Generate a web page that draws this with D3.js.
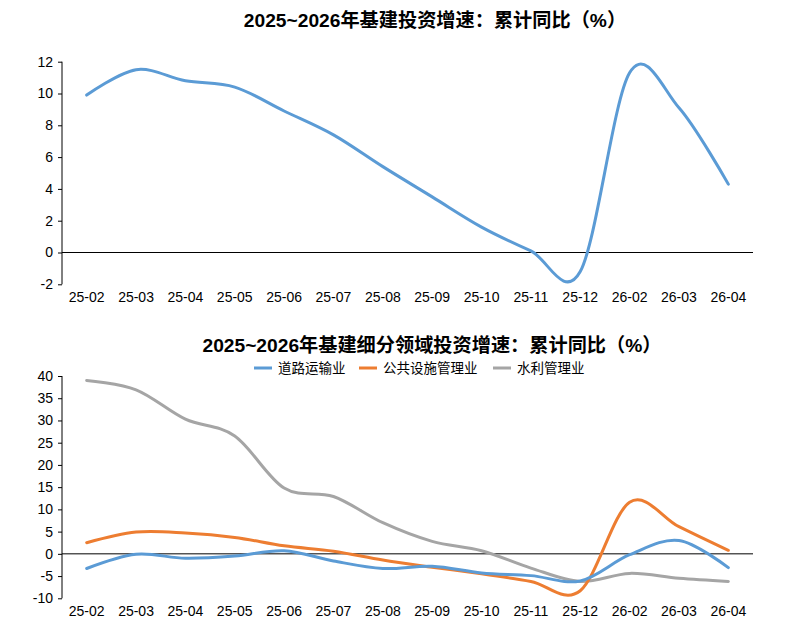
<!DOCTYPE html>
<html>
<head>
<meta charset="utf-8">
<script src="https://cdn.jsdelivr.net/npm/d3@7"></script>
<style>
  body { margin: 0; background: #fff; }
  svg text { font-family: "Liberation Sans", Arial, "Noto Sans CJK SC", sans-serif; }
</style>
</head>
<body>
<div id="chart"></div>
<script>
// categories (cumulative months)
var months = ["25-02", "25-03", "25-04", "25-05", "25-06", "25-07", "25-08",
  "25-09", "25-10", "25-11", "25-12", "26-02", "26-03", "26-04"];

// top panel: infrastructure investment, ytd yoy %
var infra = [9.9, 11.5, 10.8, 10.4, 8.9, 7.4, 5.4, 3.5, 1.6, 0.1, -1.2, 11.3, 9.1, 4.3];

// bottom panel: sub-sectors
var road = [-3.3, -0.1, -1.0, -0.5, 0.7, -1.6, -3.3, -2.8, -4.3, -4.9, -6.1, -0.2, 3.0, -3.1];
var utility = [2.5, 4.9, 4.7, 3.7, 1.8, 0.6, -1.4, -3.0, -4.5, -6.2, -8.3, 11.6, 6.1, 0.8];
var water = [39.0, 36.9, 30.3, 26.5, 14.8, 12.9, 7.0, 2.8, 0.7, -3.2, -6.2, -4.4, -5.5, -6.2];

var topTicks = [-2, 0, 2, 4, 6, 8, 10, 12];
var bottomTicks = [-10, -5, 0, 5, 10, 15, 20, 25, 30, 35, 40];

var seriesNames = ["道路运输业", "公共设施管理业", "水利管理业"];
var seriesColors = ["#5B9BD5", "#ED7D31", "#A5A5A5"];

var width = 801, height = 636;
var svg = d3.select("#chart").append("svg")
  .attr("width", width)
  .attr("height", height);

var x = d3.scaleBand().domain(months).range([62, 753]);
var curve = d3.curveCardinal.tension(0);

function panel(opts) {
  var y = d3.scaleLinear().domain(opts.domain).range(opts.range);
  var g = svg.append("g");

  // y axis with outward ticks, plain hyphen for negatives
  g.append("g")
    .attr("transform", "translate(62,0)")
    .call(d3.axisLeft(y).tickValues(opts.ticks).tickSize(4).tickPadding(5)
      .tickFormat(function (d) { return String(d); }))
    .call(function (a) {
      a.select(".domain").attr("stroke", "#000").attr("d", "M0," + opts.range[0] + "V" + opts.range[1]);
      a.selectAll(".tick line").attr("stroke", "#000");
      a.selectAll("text").attr("font-size", 14).attr("fill", "#000");
    });

  // zero line
  g.append("line")
    .attr("x1", 62).attr("x2", 753)
    .attr("y1", y(0)).attr("y2", y(0))
    .attr("stroke", "#000").attr("stroke-width", 1);

  // category labels at the bottom
  g.append("g").selectAll("text")
    .data(months)
    .enter().append("text")
    .attr("x", function (d) { return x(d) + x.bandwidth() / 2; })
    .attr("y", opts.labelY)
    .attr("text-anchor", "middle")
    .attr("font-size", 14)
    .attr("fill", "#000")
    .text(function (d) { return d; });

  var line = d3.line()
    .x(function (d, i) { return x(months[i]) + x.bandwidth() / 2; })
    .y(function (d) { return y(d); })
    .curve(curve);

  opts.series.forEach(function (s) {
    g.append("path")
      .datum(s.values)
      .attr("fill", "none")
      .attr("stroke", s.color)
      .attr("stroke-width", 3)
      .attr("stroke-linecap", "round")
      .attr("stroke-linejoin", "round")
      .attr("d", line);
  });

  g.append("text")
    .attr("x", opts.titleX)
    .attr("y", opts.titleY)
    .attr("text-anchor", "middle")
    .attr("font-size", 19.2)
    .attr("font-weight", "bold")
    .attr("fill", "#000")
    .text(opts.title);
}

panel({
  domain: [-2, 12], range: [284.3, 61.7], ticks: topTicks,
  labelY: 302,
  series: [{ values: infra, color: seriesColors[0] }],
  title: "2025~2026年基建投资增速：累计同比（%）",
  titleX: 435, titleY: 27
});

panel({
  domain: [-10, 40], range: [598.3, 376], ticks: bottomTicks,
  labelY: 616,
  series: [
    { values: water, color: seriesColors[2] },
    { values: utility, color: seriesColors[1] },
    { values: road, color: seriesColors[0] }
  ],
  title: "2025~2026年基建细分领域投资增速：累计同比（%）",
  titleX: 432, titleY: 352
});

// legend
var legendX = [254, 359, 493];
var legend = svg.append("g").selectAll("g")
  .data(seriesNames)
  .enter().append("g")
  .attr("transform", function (d, i) { return "translate(" + legendX[i] + ",368)"; });

legend.append("line")
  .attr("x1", 0).attr("x2", 18)
  .attr("stroke", function (d, i) { return seriesColors[i]; })
  .attr("stroke-width", 3);

legend.append("text")
  .attr("x", 24)
  .attr("y", 5)
  .attr("font-size", 13.5)
  .attr("fill", "#000")
  .text(function (d) { return d; });
</script>
</body>
</html>
